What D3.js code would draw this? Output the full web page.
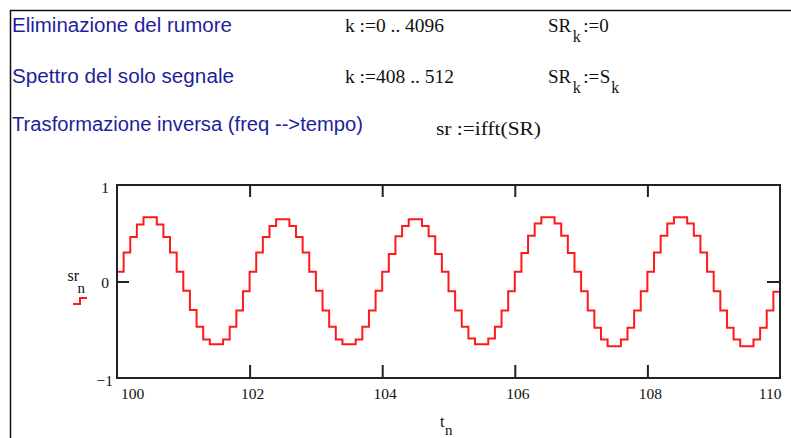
<!doctype html>
<html>
<head>
<meta charset="utf-8">
<script src="https://d3js.org/d3.v7.min.js"></script>
<style>
  body { margin: 0; background: #fff; }
  svg { display: block; }
</style>
</head>
<body>
<div id="sheet"></div>
<script>
(function () {
  "use strict";

  // time samples t_n and the filtered signal sr_n
  const tn = [
    100.0, 100.1, 100.2, 100.3, 100.4, 100.5, 100.6, 100.7, 100.8, 100.9,
    101.0, 101.1, 101.2, 101.3, 101.4, 101.5, 101.6, 101.7, 101.8, 101.9,
    102.0, 102.1, 102.2, 102.3, 102.4, 102.5, 102.6, 102.7, 102.8, 102.9,
    103.0, 103.1, 103.2, 103.3, 103.4, 103.5, 103.6, 103.7, 103.8, 103.9,
    104.0, 104.1, 104.2, 104.3, 104.4, 104.5, 104.6, 104.7, 104.8, 104.9,
    105.0, 105.1, 105.2, 105.3, 105.4, 105.5, 105.6, 105.7, 105.8, 105.9,
    106.0, 106.1, 106.2, 106.3, 106.4, 106.5, 106.6, 106.7, 106.8, 106.9,
    107.0, 107.1, 107.2, 107.3, 107.4, 107.5, 107.6, 107.7, 107.8, 107.9,
    108.0, 108.1, 108.2, 108.3, 108.4, 108.5, 108.6, 108.7, 108.8, 108.9,
    109.0, 109.1, 109.2, 109.3, 109.4, 109.5, 109.6, 109.7, 109.8, 109.9,
    110.0
  ];
  const srn = [
    0.10, 0.30, 0.46, 0.59, 0.665, 0.665, 0.59, 0.46, 0.30, 0.10,
    -0.095, -0.295, -0.47, -0.60, -0.65, -0.65, -0.60, -0.47, -0.30, -0.10,
    0.10, 0.30, 0.46, 0.575, 0.645, 0.645, 0.575, 0.46, 0.30, 0.10,
    -0.095, -0.30, -0.47, -0.60, -0.65, -0.65, -0.60, -0.47, -0.30, -0.095,
    0.10, 0.285, 0.47, 0.575, 0.645, 0.645, 0.575, 0.47, 0.285, 0.10,
    -0.10, -0.30, -0.47, -0.59, -0.65, -0.65, -0.59, -0.47, -0.30, -0.10,
    0.10, 0.295, 0.475, 0.60, 0.665, 0.665, 0.60, 0.475, 0.295, 0.10,
    -0.10, -0.30, -0.48, -0.60, -0.67, -0.67, -0.60, -0.48, -0.30, -0.10,
    0.10, 0.30, 0.475, 0.60, 0.665, 0.665, 0.60, 0.475, 0.30, 0.10,
    -0.10, -0.30, -0.48, -0.60, -0.67, -0.67, -0.60, -0.48, -0.30, -0.105,
    0.10
  ];

  const xTickMarks = [102, 104, 106, 108];
  const xTickLabels = ["100", "102", "104", "106", "108", "110"];
  const yTickLabels = ["1", "0", "\u22121"];

  const width = 791, height = 438;
  const plot = { left: 117, right: 780, top: 185, bottom: 378 };

  const svg = d3.select("#sheet").append("svg")
    .attr("width", width)
    .attr("height", height);

  // worksheet region border (top and left)
  svg.append("path")
    .attr("d", "M10.5," + height + "V10.5H" + width)
    .attr("fill", "none")
    .attr("stroke", "#111")
    .attr("stroke-width", 1.5);

  // ---- worksheet text ----
  const blue = "#1e1e9c";
  const sans = "'Liberation Sans', Arial, sans-serif";
  const serif = "'Liberation Serif', 'Times New Roman', serif";

  const notes = [
    { s: "Eliminazione del rumore", y: 32, w: 220 },
    { s: "Spettro del solo segnale", y: 83, w: 222 },
    { s: "Trasformazione inversa (freq -->tempo)", y: 131, w: 351 }
  ];
  svg.selectAll("text.note").data(notes).join("text")
    .attr("class", "note")
    .attr("x", 12).attr("y", d => d.y)
    .attr("textLength", d => d.w)
    .attr("lengthAdjust", "spacingAndGlyphs")
    .attr("font-family", sans).attr("font-size", 19.5)
    .attr("fill", blue)
    .text(d => d.s);

  const math = [
    { s: "k :=0 .. 4096", x: 345, y: 32, w: 99 },
    { s: "k :=408 .. 512", x: 345, y: 83, w: 109 },
    { s: "sr :=ifft(SR)", x: 436, y: 135, w: 105 }
  ];
  svg.selectAll("text.math").data(math).join("text")
    .attr("class", "math")
    .attr("x", d => d.x).attr("y", d => d.y)
    .attr("textLength", d => d.w)
    .attr("lengthAdjust", "spacingAndGlyphs")
    .attr("font-family", serif).attr("font-size", 19)
    .attr("fill", "#111")
    .text(d => d.s);

  // expressions with subscripts: pieces of [text, dx, dy, size]
  const subExprs = [
    { x: 548, y: 32, parts: [["SR", 0, 0, 19], ["k", 1.5, 9.5, 16], [":=0", 2.5, -9.5, 19]] },
    { x: 548, y: 83, parts: [["SR", 0, 0, 19], ["k", 1.5, 9.5, 16], [":=", 2.5, -9.5, 19], ["S", 0.5, 0, 19], ["k", 1, 9.5, 16]] },
    { x: 67.5, y: 281, parts: [["sr", 0, 0, 16], ["n", -1.5, 11.5, 15]] },
    { x: 440, y: 427, parts: [["t", 0, 0, 16], ["n", 0.5, 7.5, 15]] }
  ];
  const expr = svg.selectAll("text.expr").data(subExprs).join("text")
    .attr("class", "expr")
    .attr("x", d => d.x).attr("y", d => d.y)
    .attr("font-family", serif)
    .attr("fill", "#111");
  expr.selectAll("tspan").data(d => d.parts).join("tspan")
    .attr("dx", p => p[1]).attr("dy", p => p[2])
    .attr("font-size", p => p[3])
    .text(p => p[0]);

  // ---- plot ----
  const x = d3.scaleLinear().domain([100, 110]).range([plot.left, plot.right]);
  const y = d3.scaleLinear().domain([-1, 1]).range([plot.bottom, plot.top]);

  svg.append("clipPath").attr("id", "clip")
    .append("rect")
    .attr("x", plot.left).attr("y", plot.top)
    .attr("width", plot.right - plot.left)
    .attr("height", plot.bottom - plot.top);

  const line = d3.line()
    .x((d, i) => x(tn[i]))
    .y(d => y(d))
    .curve(d3.curveStepAfter);

  svg.append("path")
    .datum(srn)
    .attr("clip-path", "url(#clip)")
    .attr("d", line)
    .attr("fill", "none")
    .attr("stroke", "#ff1a1a")
    .attr("stroke-width", 2);

  // inward tick marks
  const tickStyle = g => {
    g.select(".domain").remove();
    g.selectAll(".tick line").attr("stroke", "#222").attr("stroke-width", 2);
    g.selectAll(".tick text").remove();
  };
  svg.append("g").attr("transform", "translate(0," + plot.bottom + ")")
    .call(d3.axisBottom(x).tickValues(xTickMarks).tickSize(-13)).call(tickStyle);
  svg.append("g").attr("transform", "translate(0," + plot.top + ")")
    .call(d3.axisTop(x).tickValues(xTickMarks).tickSize(-12)).call(tickStyle);
  svg.append("g").attr("transform", "translate(" + plot.left + ",0)")
    .call(d3.axisLeft(y).tickValues([0]).tickSize(-12)).call(tickStyle);
  svg.append("g").attr("transform", "translate(" + plot.right + ",0)")
    .call(d3.axisRight(y).tickValues([0]).tickSize(-13)).call(tickStyle);

  // frame
  svg.append("rect")
    .attr("x", plot.left).attr("y", plot.top)
    .attr("width", plot.right - plot.left)
    .attr("height", plot.bottom - plot.top)
    .attr("fill", "none")
    .attr("stroke", "#222")
    .attr("stroke-width", 2);

  // x tick labels
  const last = xTickLabels.length - 1;
  svg.selectAll("text.xlab").data(xTickLabels).join("text")
    .attr("class", "xlab")
    .attr("x", (d, i) => i === 0 ? x(+d) + 4 : i === last ? x(+d) + 1.5 : x(+d) + 3)
    .attr("y", 399)
    .attr("text-anchor", (d, i) => i === 0 ? "start" : i === last ? "end" : "middle")
    .attr("font-family", serif).attr("font-size", 15.5)
    .attr("fill", "#111")
    .text(d => d);

  // y tick labels
  svg.selectAll("text.ylab").data(yTickLabels).join("text")
    .attr("class", "ylab")
    .attr("x", (d, i) => i === 2 ? 113 : 109)
    .attr("y", d => y(d === "\u22121" ? -1 : +d) + (d === "1" ? 8 : d === "0" ? 6 : 8))
    .attr("text-anchor", "end")
    .attr("font-family", serif).attr("font-size", 15.5)
    .attr("fill", "#111")
    .text(d => d);

  // trace style marker under the y name
  svg.append("path")
    .attr("d", "M73,304H80V298H87")
    .attr("fill", "none")
    .attr("stroke", "#ff1a1a")
    .attr("stroke-width", 2);
})();
</script>
</body>
</html>
